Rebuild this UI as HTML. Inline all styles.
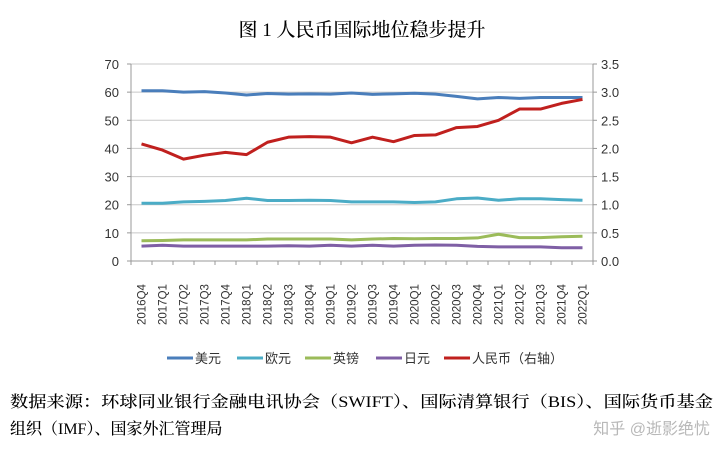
<!DOCTYPE html>
<html><head><meta charset="utf-8"><style>
body{margin:0;background:#fff;}
svg{display:block;font-family:"Liberation Sans","Noto Sans CJK SC",sans-serif;}
</style></head><body>
<svg id="chart" width="720" height="454" viewBox="0 0 720 454" xmlns="http://www.w3.org/2000/svg">
<text x="362" y="36" text-anchor="middle" font-size="19" font-weight="500" font-family="'Liberation Serif','Noto Serif CJK SC',serif">图 1 人民币国际地位稳步提升</text>
<g id="grid"></g>
<g id="axes"></g>
<g id="series"></g>
<g id="legend"></g>
<text x="10" y="407" font-size="16" font-weight="500" textLength="703" lengthAdjust="spacingAndGlyphs" font-family="'Liberation Serif','Noto Serif CJK SC',serif">数据来源：环球同业银行金融电讯协会（SWIFT）、国际清算银行（BIS）、国际货币基金</text>
<text x="10" y="434" font-size="16" font-weight="500" font-family="'Liberation Serif','Noto Serif CJK SC',serif">组织（IMF）、国家外汇管理局</text>
<text x="710" y="434" text-anchor="end" font-size="16" fill="#b8b8b8">知乎 @逝影绝忧</text>
</svg>
<script>
const categories=["2016Q4","2017Q1","2017Q2","2017Q3","2017Q4","2018Q1","2018Q2","2018Q3","2018Q4","2019Q1","2019Q2","2019Q3","2019Q4","2020Q1","2020Q2","2020Q3","2020Q4","2021Q1","2021Q2","2021Q3","2021Q4","2022Q1"];
const usd=[60.5,60.5,60,60.2,59.7,59,59.5,59.3,59.4,59.3,59.7,59.2,59.4,59.6,59.3,58.5,57.6,58.1,57.8,58.1,58.1,58.1];
const eur=[20.5,20.5,21,21.2,21.5,22.3,21.5,21.5,21.6,21.5,21,21,21,20.8,21,22.1,22.4,21.6,22.1,22.1,21.8,21.6];
const gbp=[7.2,7.3,7.5,7.5,7.5,7.5,7.8,7.8,7.8,7.8,7.5,7.8,8,7.9,8,8,8.2,9.5,8.3,8.3,8.6,8.8];
const jpy=[5.3,5.6,5.3,5.3,5.3,5.3,5.3,5.4,5.3,5.6,5.3,5.6,5.3,5.6,5.7,5.6,5.2,5,5,5,4.7,4.7];
const rmb=[2.08,1.97,1.81,1.88,1.93,1.89,2.11,2.2,2.21,2.2,2.1,2.2,2.12,2.23,2.24,2.37,2.39,2.5,2.7,2.7,2.8,2.87];
const leftTicks=[0,10,20,30,40,50,60,70];
const rightTicks=["0.0","0.5","1.0","1.5","2.0","2.5","3.0","3.5"];
const L=131,R=593,T=64,B=261;
const NS="http://www.w3.org/2000/svg";
const xs=i=>L+(R-L)/categories.length*(i+0.5);
const yl=v=>B-(B-T)*v/70;
const yr=v=>B-(B-T)*v/3.5;
function mk(tag,attrs,parent,txt){const e=document.createElementNS(NS,tag);for(const k in attrs)e.setAttribute(k,attrs[k]);if(txt!==undefined)e.textContent=txt;parent.appendChild(e);return e;}
const grid=document.getElementById('grid'),axes=document.getElementById('axes'),ser=document.getElementById('series'),leg=document.getElementById('legend');
leftTicks.forEach((t,i)=>{
  const y=yl(t);
  if(t>0){const g=mk('line',{x1:L,x2:R,y1:y,y2:y,stroke:'#c8c8c8','stroke-width':1},grid);
  
  }
  const a=mk('text',{x:L-12,y:y+5,'text-anchor':'end','font-size':13,fill:'#333'},axes,String(t));
  
  
  const b=mk('text',{x:R+8,y:y+5,'font-size':13,fill:'#333'},axes,rightTicks[i]);
  
  
  mk('line',{x1:L-4,x2:L,y1:y,y2:y,stroke:'#999'},axes);
  mk('line',{x1:R,x2:R+4,y1:y,y2:y,stroke:'#999'},axes);
});
mk('line',{x1:L,x2:L,y1:T,y2:B,stroke:'#999'},axes);
mk('line',{x1:R,x2:R,y1:T,y2:B,stroke:'#999'},axes);
mk('line',{x1:L,x2:R,y1:B,y2:B,stroke:'#999'},axes);
categories.forEach((c,i)=>{
  const x0=L+(R-L)/categories.length*i;
  mk('line',{x1:x0,x2:x0,y1:B,y2:B+4,stroke:'#999'},axes);
  const t=mk('text',{x:0,y:0,transform:`translate(${xs(i)+4},325) rotate(-90)`,'font-size':11.5,fill:'#333'},axes,c);
  
  
});
mk('line',{x1:R,x2:R,y1:B,y2:B+4,stroke:'#999'},axes);
const defs=[["美元",usd,'#4a7ebb',yl,167],["欧元",eur,'#4bacc6',yl,237],["英镑",gbp,'#9bbb59',yl,305],["日元",jpy,'#7f5fa5',yl,376],["人民币（右轴）",rmb,'#c0201e',yr,444]];
defs.forEach(([name,vals,col,yf,lx])=>{
  const p=mk('polyline',{points:vals.map((v,i)=>xs(i)+','+yf(v)).join(' '),fill:'none',stroke:col,'stroke-width':3,'stroke-linejoin':'round'},ser);
  
  
  const g=mk('g',{},leg);
  
  
  mk('line',{x1:lx,x2:lx+26,y1:358,y2:358,stroke:col,'stroke-width':3},g);
  mk('text',{x:lx+28,y:363,'font-size':13,fill:'#333'},g,name);
});
</script>
</body></html>
